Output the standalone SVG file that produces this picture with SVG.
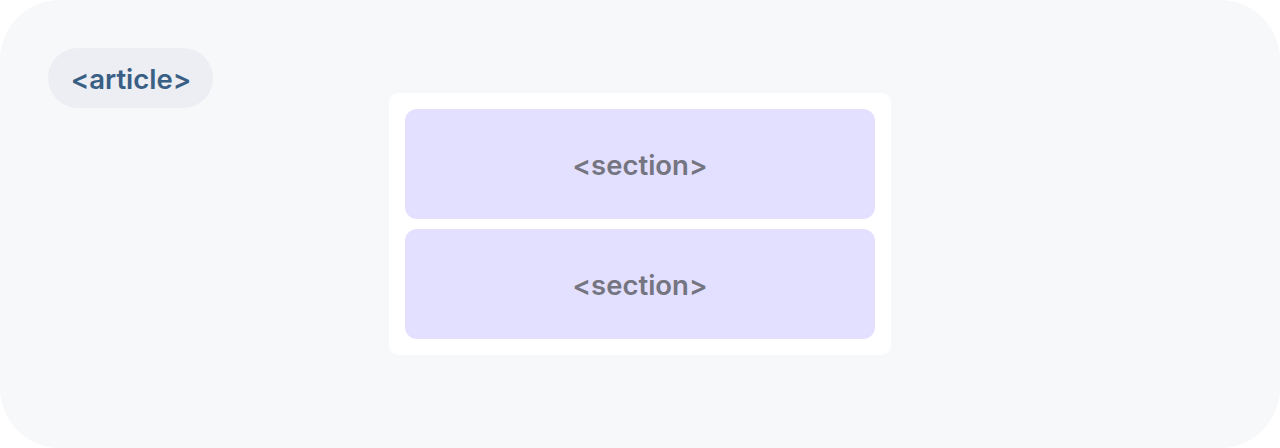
<svg xmlns="http://www.w3.org/2000/svg" width="1280" height="448" viewBox="0 0 1280 448">
<style>
.lbl{font-family:Inter,"Noto Sans",sans-serif;font-weight:600;font-size:27.5px;text-anchor:middle}
.sec{fill:#e3dfff}
.sect{fill:#747580}
</style>
<rect x="0" y="0" width="1280" height="448" rx="60" fill="#f7f8fa"/>
<g id="article">
<rect x="48" y="48" width="165" height="60" rx="30" fill="#eceef3"/>
<text class="lbl" x="131" y="89" fill="#3a5f85">&lt;article&gt;</text>
</g>
<g id="container">
<rect x="389" y="93" width="502" height="262" rx="10" fill="#ffffff"/>
</g>
<g id="section1">
<rect class="sec" x="405" y="109" width="470" height="110" rx="12"/>
<text class="lbl sect" x="640" y="175">&lt;section&gt;</text>
</g>
<g id="section2">
<rect class="sec" x="405" y="229" width="470" height="110" rx="12"/>
<text class="lbl sect" x="640" y="295">&lt;section&gt;</text>
</g>
<g id="connectors"/>
</svg>
